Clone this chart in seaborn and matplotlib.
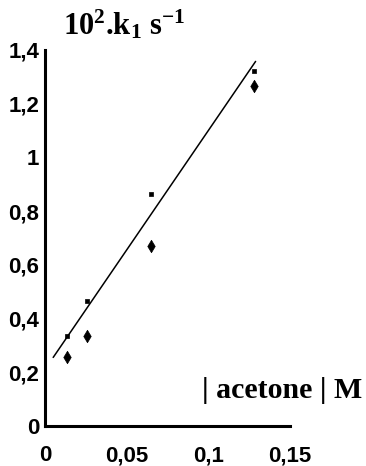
import matplotlib
matplotlib.use("Agg")
import matplotlib.pyplot as plt
import seaborn as sns
import pandas as pd
from matplotlib.ticker import FuncFormatter

# data
acetone = [0.0135, 0.026, 0.065, 0.128]
k_square = [0.335, 0.465, 0.865, 1.32]
k_diamond = [0.255, 0.335, 0.67, 1.265]
fit_x = [0.005, 0.129]
fit_y = [0.255, 1.357]
xticks = [0, 0.05, 0.1, 0.15]
yticks = [0, 0.2, 0.4, 0.6, 0.8, 1.0, 1.2, 1.4]

sns.set_style("white")
plt.rcParams['font.family'] = ['Liberation Sans', 'DejaVu Sans']
plt.rcParams['text.color'] = 'black'
plt.rcParams['mathtext.fontset'] = 'custom'
plt.rcParams['mathtext.rm'] = 'Liberation Serif:bold'
plt.rcParams['mathtext.bf'] = 'Liberation Serif:bold'
plt.rcParams['mathtext.it'] = 'Liberation Serif:bold'
plt.rcParams['mathtext.default'] = 'rm'

fig = plt.figure(figsize=(3.66, 4.66), dpi=100)
ax = fig.add_axes([0.123, 0.086, 0.669, 0.807])

df_sq = pd.DataFrame({"x": acetone, "y": k_square})
df_di = pd.DataFrame({"x": acetone, "y": k_diamond})
df_fit = pd.DataFrame({"x": fit_x, "y": fit_y})

sns.lineplot(data=df_fit, x="x", y="y", ax=ax, color="black", lw=1.1)
sns.scatterplot(data=df_sq, x="x", y="y", ax=ax, marker="s", s=6,
                color="black", edgecolor="black", linewidth=0.5)
sns.scatterplot(data=df_di, x="x", y="y", ax=ax, marker="d", s=40,
                color="black", edgecolor="black", linewidth=0.5)

ax.set_xlim(0, 0.15)
ax.set_ylim(0, 1.4)
ax.set_xticks(xticks)
ax.set_yticks(yticks)

def fmt(v, pos):
    return ("%g" % round(v, 3)).replace(".", ",")

ax.xaxis.set_major_formatter(FuncFormatter(fmt))
ax.yaxis.set_major_formatter(FuncFormatter(fmt))
ax.set_xlabel("")
ax.set_ylabel("")

for side in ["top", "right"]:
    ax.spines[side].set_visible(False)
for side in ["left", "bottom"]:
    ax.spines[side].set_color("black")
    ax.spines[side].set_linewidth(2.2)

ax.tick_params(axis="both", direction="in", length=4, width=2, colors="black",
               labelsize=16)
ax.tick_params(axis="x", pad=14)
ax.tick_params(axis="y", pad=4)
for lab in ax.get_xticklabels() + ax.get_yticklabels():
    lab.set_fontweight("bold")

fig.text(0.172, 0.925, r"10$^{2}$.k$_{1}$ s$^{-1}$",
         fontsize=22, fontweight="bold", family=["Liberation Serif"],
         color="black", ha="left", va="baseline")
fig.text(0.553, 0.146, "| acetone | M", fontsize=21.5, fontweight="bold",
         family=["Liberation Serif"], color="black", ha="left", va="baseline")

fig.savefig("out.png", dpi=100)
